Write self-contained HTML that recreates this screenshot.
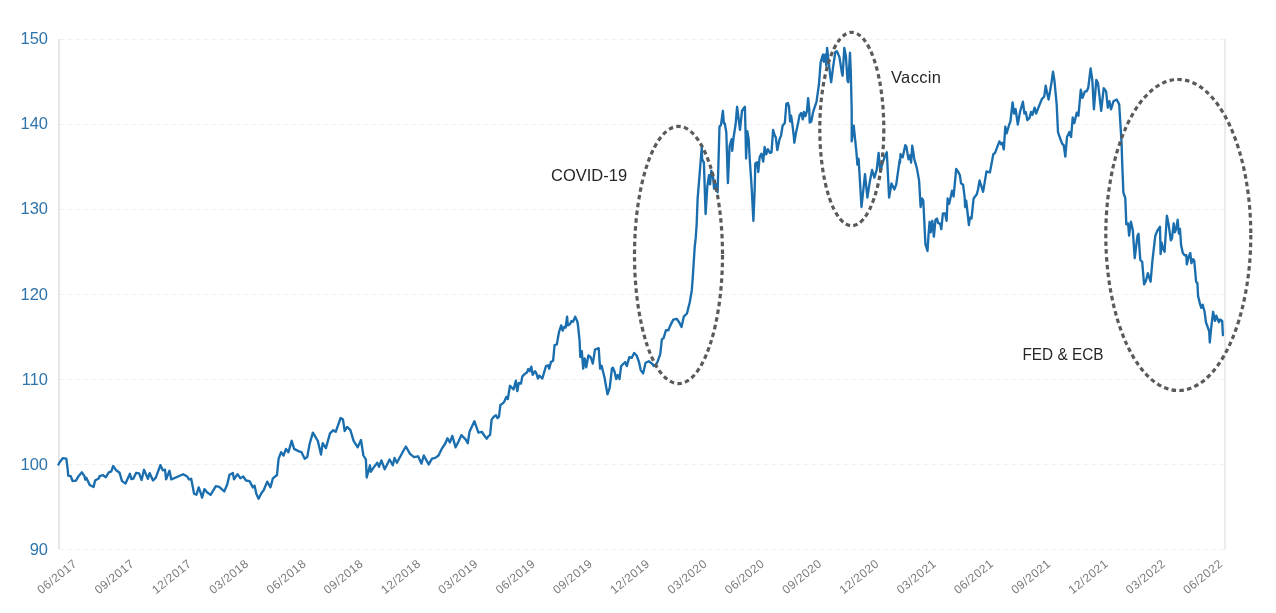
<!DOCTYPE html>
<html><head><meta charset="utf-8">
<style>
html,body{margin:0;padding:0;background:#fff;}
body{width:1276px;height:613px;overflow:hidden;}
svg{display:block;font-family:"Liberation Sans", sans-serif;will-change:transform;}
.yl{font-size:16.5px;fill:#2f74aa;}
.xl{font-size:12px;fill:#7a7a7a;letter-spacing:0.5px;}
.an{font-size:16.5px;fill:#262626;}
</style></head>
<body>
<svg width="1276" height="613" viewBox="0 0 1276 613">
<line x1="60" y1="39.4" x2="1225" y2="39.4" stroke="#f0f0f0" stroke-width="1" stroke-dasharray="5,3"/>
<line x1="60" y1="124.4" x2="1225" y2="124.4" stroke="#f0f0f0" stroke-width="1" stroke-dasharray="5,3"/>
<line x1="60" y1="209.4" x2="1225" y2="209.4" stroke="#f0f0f0" stroke-width="1" stroke-dasharray="5,3"/>
<line x1="60" y1="294.5" x2="1225" y2="294.5" stroke="#f0f0f0" stroke-width="1" stroke-dasharray="5,3"/>
<line x1="60" y1="379.5" x2="1225" y2="379.5" stroke="#f0f0f0" stroke-width="1" stroke-dasharray="5,3"/>
<line x1="60" y1="464.5" x2="1225" y2="464.5" stroke="#f0f0f0" stroke-width="1" stroke-dasharray="5,3"/>
<line x1="60" y1="549.5" x2="1225" y2="549.5" stroke="#f0f0f0" stroke-width="1" stroke-dasharray="5,3"/>

<line x1="59" y1="39" x2="59" y2="549.5" stroke="#e0e0e0" stroke-width="1.6"/>
<line x1="1225" y1="39" x2="1225" y2="549.5" stroke="#e6e6e6" stroke-width="1.6"/>
<text x="48" y="44.4" text-anchor="end" class="yl">150</text>
<text x="48" y="129.4" text-anchor="end" class="yl">140</text>
<text x="48" y="214.4" text-anchor="end" class="yl">130</text>
<text x="48" y="299.5" text-anchor="end" class="yl">120</text>
<text x="48" y="384.5" text-anchor="end" class="yl">110</text>
<text x="48" y="469.5" text-anchor="end" class="yl">100</text>
<text x="48" y="554.5" text-anchor="end" class="yl">90</text>

<text x="77.8" y="565" text-anchor="end" transform="rotate(-39 77.8 565)" class="xl">06/2017</text>
<text x="135.1" y="565" text-anchor="end" transform="rotate(-39 135.1 565)" class="xl">09/2017</text>
<text x="192.4" y="565" text-anchor="end" transform="rotate(-39 192.4 565)" class="xl">12/2017</text>
<text x="249.7" y="565" text-anchor="end" transform="rotate(-39 249.7 565)" class="xl">03/2018</text>
<text x="307.0" y="565" text-anchor="end" transform="rotate(-39 307.0 565)" class="xl">06/2018</text>
<text x="364.2" y="565" text-anchor="end" transform="rotate(-39 364.2 565)" class="xl">09/2018</text>
<text x="421.5" y="565" text-anchor="end" transform="rotate(-39 421.5 565)" class="xl">12/2018</text>
<text x="478.8" y="565" text-anchor="end" transform="rotate(-39 478.8 565)" class="xl">03/2019</text>
<text x="536.1" y="565" text-anchor="end" transform="rotate(-39 536.1 565)" class="xl">06/2019</text>
<text x="593.4" y="565" text-anchor="end" transform="rotate(-39 593.4 565)" class="xl">09/2019</text>
<text x="650.7" y="565" text-anchor="end" transform="rotate(-39 650.7 565)" class="xl">12/2019</text>
<text x="708.0" y="565" text-anchor="end" transform="rotate(-39 708.0 565)" class="xl">03/2020</text>
<text x="765.3" y="565" text-anchor="end" transform="rotate(-39 765.3 565)" class="xl">06/2020</text>
<text x="822.6" y="565" text-anchor="end" transform="rotate(-39 822.6 565)" class="xl">09/2020</text>
<text x="879.9" y="565" text-anchor="end" transform="rotate(-39 879.9 565)" class="xl">12/2020</text>
<text x="937.1" y="565" text-anchor="end" transform="rotate(-39 937.1 565)" class="xl">03/2021</text>
<text x="994.4" y="565" text-anchor="end" transform="rotate(-39 994.4 565)" class="xl">06/2021</text>
<text x="1051.7" y="565" text-anchor="end" transform="rotate(-39 1051.7 565)" class="xl">09/2021</text>
<text x="1109.0" y="565" text-anchor="end" transform="rotate(-39 1109.0 565)" class="xl">12/2021</text>
<text x="1166.3" y="565" text-anchor="end" transform="rotate(-39 1166.3 565)" class="xl">03/2022</text>
<text x="1223.6" y="565" text-anchor="end" transform="rotate(-39 1223.6 565)" class="xl">06/2022</text>

<path d="M58.4 464.5 L59.9 462.0 L62.8 458.1 L66.3 458.6 L67.7 469.4 L68.2 475.7 L70.7 476.2 L72.6 481.0 L76.0 480.6 L78.5 476.2 L81.9 472.3 L84.4 476.2 L85.3 479.6 L86.3 477.7 L89.7 485.0 L93.6 487.0 L95.1 480.6 L99.0 478.2 L99.5 476.2 L103.0 475.2 L105.9 477.2 L108.8 472.3 L111.3 471.3 L113.2 466.0 L116.2 470.3 L119.6 472.8 L122.0 481.1 L125.5 483.5 L129.9 473.8 L131.4 479.1 L133.3 478.6 L136.2 472.8 L139.1 473.3 L141.6 480.1 L144.0 469.8 L147.9 478.8 L149.6 473.1 L153.0 480.5 L155.8 477.7 L160.4 465.1 L162.7 470.3 L165.0 469.7 L166.1 479.4 L169.5 470.8 L171.3 479.4 L178.1 476.5 L183.2 474.2 L187.2 476.5 L189.0 479.4 L191.2 478.8 L194.1 493.7 L196.4 494.8 L198.7 487.4 L200.9 493.7 L202.1 497.6 L204.4 489.1 L207.2 492.5 L210.6 494.8 L215.8 486.2 L219.2 486.8 L224.3 491.4 L227.2 484.5 L229.5 474.8 L232.9 473.1 L234.0 479.4 L237.5 474.2 L240.3 478.2 L243.2 476.5 L246.0 480.5 L249.5 481.1 L252.9 487.4 L254.6 485.7 L256.3 493.7 L258.6 498.8 L261.5 493.0 L263.7 490.2 L267.2 481.6 L270.5 487.3 L272.9 478.3 L277.0 475.0 L278.6 458.7 L281.1 452.2 L283.5 455.5 L286.0 448.9 L288.4 452.2 L291.7 440.8 L294.1 448.9 L299.0 451.4 L301.5 452.2 L304.7 458.7 L307.2 457.1 L309.6 444.0 L312.9 432.6 L317.8 440.8 L321.0 454.6 L322.7 443.2 L325.9 448.1 L330.0 433.4 L333.3 430.2 L335.7 431.8 L340.6 418.0 L343.0 419.6 L344.7 431.0 L347.1 426.9 L350.4 430.2 L353.6 440.8 L357.7 447.3 L361.0 440.0 L363.4 455.5 L365.9 459.5 L366.7 477.5 L370.0 465.3 L370.8 471.8 L374.1 466.9 L377.3 462.8 L379.0 466.9 L381.4 460.4 L384.7 469.3 L389.6 459.5 L392.8 465.3 L394.5 457.9 L396.9 462.8 L402.6 452.2 L405.9 446.5 L410.0 453.8 L414.0 457.1 L418.1 456.3 L421.4 463.6 L423.8 455.5 L428.7 464.4 L432.0 458.7 L435.2 457.9 L438.5 455.5 L441.7 448.9 L445.0 444.0 L447.5 438.3 L449.9 442.4 L452.3 435.9 L455.6 447.3 L458.9 440.8 L461.3 435.1 L465.4 439.2 L467.8 443.2 L469.5 431.8 L474.4 421.2 L478.4 432.6 L481.7 431.8 L485.0 436.5 L486.8 438.7 L488.7 435.8 L490.1 435.0 L491.6 419.6 L493.8 416.7 L496.0 415.2 L497.5 418.1 L499.0 416.7 L500.4 404.9 L502.6 403.5 L504.1 402.0 L506.3 396.9 L507.8 399.1 L510.0 385.8 L512.2 388.0 L513.6 389.5 L515.8 380.7 L517.3 391.0 L518.8 382.9 L521.0 383.6 L522.4 376.3 L524.6 374.1 L526.9 372.6 L528.3 369.0 L529.8 371.2 L531.3 366.7 L532.7 374.8 L535.0 371.2 L536.4 373.4 L537.9 378.5 L539.3 375.6 L542.3 378.5 L544.5 371.2 L546.0 366.0 L548.1 365.3 L549.2 368.7 L550.9 362.1 L553.1 360.7 L554.6 345.2 L556.8 344.5 L559.0 332.0 L561.2 325.4 L562.7 330.6 L564.2 326.9 L565.6 327.6 L567.1 316.6 L567.8 325.4 L570.0 324.0 L571.5 321.0 L573.0 321.7 L575.2 316.6 L577.4 321.7 L578.1 326.2 L579.6 340.8 L580.3 357.0 L581.8 351.1 L583.2 368.7 L584.7 358.5 L586.2 367.3 L588.4 355.5 L590.6 357.0 L592.8 363.6 L595.0 349.6 L598.7 348.2 L600.1 368.7 L601.6 365.8 L604.5 377.5 L607.5 394.4 L609.7 387.8 L611.9 368.7 L612.9 367.7 L614.6 371.8 L616.2 379.1 L617.8 375.0 L619.5 379.1 L621.1 366.1 L625.2 362.0 L626.8 366.1 L629.3 357.1 L631.7 357.9 L634.2 353.0 L636.6 355.5 L639.0 362.0 L640.7 370.1 L643.1 373.4 L645.6 362.8 L648.8 361.2 L652.9 364.4 L653.7 366.1 L656.2 364.4 L657.8 361.2 L660.3 353.8 L661.9 339.2 L663.5 338.3 L666.0 330.2 L668.4 330.2 L670.0 326.1 L673.3 319.6 L676.6 318.8 L679.0 322.0 L681.5 326.9 L683.9 316.3 L686.9 313.7 L689.8 302.0 L691.8 290.2 L692.7 278.4 L693.7 262.7 L694.7 247.0 L695.7 238.2 L696.7 223.5 L697.6 199.1 L699.9 170.6 L701.8 147.0 L702.1 159.1 L703.9 162.6 L705.6 214.0 L707.3 186.6 L709.0 175.1 L710.1 184.3 L711.3 170.6 L713.0 176.3 L714.1 188.9 L715.9 184.3 L717.6 192.3 L719.5 126.4 L720.9 125.4 L722.9 110.8 L723.9 123.5 L724.8 123.5 L726.3 132.3 L727.9 183.1 L729.6 146.0 L731.7 139.1 L732.2 150.9 L733.6 137.2 L735.6 124.5 L737.1 106.8 L740.0 129.8 L742.0 110.8 L744.9 106.8 L745.5 130.0 L746.1 158.5 L747.3 131.1 L748.7 139.5 L749.8 160.0 L751.6 186.7 L753.4 220.9 L754.7 189.1 L755.3 163.4 L757.1 162.2 L758.3 172.0 L759.6 157.3 L761.4 153.7 L763.2 161.6 L764.6 147.0 L766.2 154.4 L767.8 149.1 L769.9 152.8 L771.5 152.3 L773.1 130.0 L774.7 135.3 L775.8 137.4 L777.3 150.1 L779.5 139.5 L781.1 135.3 L782.6 125.8 L784.8 123.1 L786.4 103.5 L787.9 103.0 L789.0 106.7 L790.1 121.5 L791.1 115.7 L792.2 122.6 L793.8 136.4 L794.3 142.7 L795.9 133.2 L798.0 123.6 L799.6 115.1 L801.2 113.0 L802.8 119.4 L803.9 112.0 L805.4 116.2 L807.0 110.9 L808.1 98.2 L809.2 108.8 L809.7 122.6 L811.3 121.5 L812.9 113.0 L814.5 107.7 L816.5 101.8 L819.0 83.8 L820.6 62.6 L822.2 56.9 L823.1 54.5 L823.9 61.8 L825.5 54.5 L826.3 65.9 L827.1 47.9 L828.8 62.6 L830.4 77.3 L831.2 82.2 L832.8 69.2 L835.3 52.0 L836.9 51.2 L839.4 56.9 L841.8 72.4 L842.6 75.7 L844.3 47.9 L845.9 56.1 L847.5 80.6 L848.3 82.2 L850.0 52.8 L850.8 72.4 L851.7 110.0 L851.7 141.3 L853.7 125.7 L855.7 145.2 L856.4 152.0 L857.4 164.7 L858.6 158.8 L861.5 207.0 L865.0 174.1 L867.4 197.6 L869.7 182.3 L872.1 170.0 L874.4 177.6 L876.8 169.4 L878.6 152.9 L880.3 171.7 L882.1 164.7 L884.4 157.6 L886.8 152.3 L889.1 197.6 L891.5 183.5 L894.4 189.4 L896.2 184.7 L899.7 160.0 L900.0 162.6 L900.5 154.1 L902.7 157.3 L905.3 145.1 L906.4 146.7 L908.5 159.4 L910.1 155.1 L911.1 162.6 L912.2 145.6 L913.3 152.0 L914.3 159.4 L915.9 164.7 L917.0 168.9 L919.1 180.6 L920.6 207.0 L922.2 198.5 L923.3 200.6 L925.4 244.1 L927.5 251.0 L928.6 233.5 L929.6 221.8 L930.7 232.4 L932.3 220.8 L933.9 236.7 L935.5 219.7 L937.0 218.6 L938.1 222.9 L940.2 223.9 L941.3 229.2 L942.9 213.3 L945.0 213.3 L946.6 220.8 L947.6 198.5 L949.2 203.8 L950.8 196.4 L952.0 190.7 L953.6 196.5 L956.2 168.9 L957.8 171.1 L959.9 175.3 L961.0 183.2 L963.1 184.8 L964.7 197.6 L965.1 207.0 L966.2 200.6 L968.9 225.0 L969.9 217.6 L971.5 218.6 L973.6 198.5 L976.8 194.2 L977.9 190.0 L979.6 180.5 L983.1 191.9 L986.5 171.4 L989.9 172.5 L993.3 154.2 L995.0 153.1 L997.2 147.2 L999.4 141.4 L1000.9 144.3 L1002.3 142.8 L1003.8 149.4 L1005.3 126.7 L1006.7 133.3 L1009.0 125.2 L1010.4 121.5 L1012.6 102.4 L1014.1 113.5 L1015.6 109.1 L1017.8 124.5 L1020.0 112.0 L1022.9 101.7 L1024.4 113.5 L1025.8 112.0 L1027.3 120.1 L1029.5 117.9 L1031.0 112.0 L1032.4 114.9 L1034.6 107.6 L1036.1 113.5 L1039.0 106.1 L1042.0 98.8 L1044.2 96.6 L1045.7 85.6 L1047.1 92.9 L1048.6 99.5 L1050.1 90.7 L1051.5 82.6 L1053.0 71.6 L1054.5 81.2 L1056.7 104.6 L1058.0 132.1 L1059.6 137.0 L1062.1 143.6 L1063.7 145.2 L1065.3 156.6 L1067.0 137.0 L1069.4 132.1 L1071.1 137.0 L1072.7 117.5 L1074.3 123.2 L1076.8 112.6 L1078.4 115.8 L1080.8 89.7 L1082.5 97.9 L1084.9 91.4 L1086.5 91.4 L1088.2 88.1 L1090.6 68.5 L1092.3 79.9 L1093.9 109.3 L1096.3 79.9 L1098.0 83.2 L1101.2 110.9 L1103.7 88.1 L1106.1 91.4 L1107.8 107.7 L1109.4 101.2 L1111.0 109.3 L1113.5 101.2 L1116.7 99.5 L1119.2 104.4 L1120.8 130.5 L1121.6 143.6 L1122.2 163.4 L1123.4 192.5 L1125.3 198.1 L1126.3 224.4 L1128.1 223.5 L1129.1 235.7 L1130.9 221.6 L1132.8 230.0 L1134.7 258.2 L1137.5 235.7 L1138.5 233.8 L1140.3 260.0 L1142.2 261.9 L1144.1 284.4 L1146.0 280.7 L1147.8 273.2 L1150.6 281.6 L1152.5 260.0 L1155.3 235.7 L1157.2 231.0 L1159.1 228.2 L1160.0 226.7 L1160.6 254.1 L1161.7 242.7 L1162.9 248.4 L1164.6 251.8 L1166.9 215.8 L1168.6 224.4 L1170.8 240.4 L1172.0 238.1 L1173.7 223.3 L1174.8 232.4 L1176.0 229.6 L1177.7 219.8 L1178.8 233.5 L1180.0 229.0 L1181.1 245.0 L1182.8 253.0 L1184.6 255.2 L1186.3 255.2 L1186.8 264.4 L1188.5 257.5 L1190.3 253.0 L1191.4 263.2 L1193.1 259.2 L1194.3 261.0 L1196.1 281.7 L1197.4 283.1 L1198.1 296.1 L1200.0 303.9 L1201.3 307.9 L1202.6 304.6 L1204.6 311.8 L1205.9 322.2 L1209.2 331.4 L1209.8 342.5 L1211.1 328.7 L1213.1 311.8 L1215.0 320.9 L1216.3 315.7 L1218.9 322.2 L1220.2 319.6 L1222.2 320.9 L1222.9 335.3" fill="none" stroke="#1a6eae" stroke-width="2.35" stroke-linejoin="round" stroke-linecap="round"/>
<ellipse cx="678.5" cy="255" rx="44" ry="128.6" fill="none" stroke="#5a5a5a" stroke-width="3.2" stroke-dasharray="4.5,3.3"/>
<ellipse cx="851.8" cy="129" rx="32" ry="96.7" fill="none" stroke="#5a5a5a" stroke-width="3.2" stroke-dasharray="4.5,3.3"/>
<ellipse cx="1178.3" cy="235" rx="72.5" ry="155.5" fill="none" stroke="#5a5a5a" stroke-width="3.2" stroke-dasharray="4.5,3.3"/>
<text x="551" y="181" class="an">COVID-19</text>
<text x="891" y="82.6" class="an" textLength="50" lengthAdjust="spacing">Vaccin</text>
<text x="1022.5" y="359.6" class="an" textLength="81" lengthAdjust="spacingAndGlyphs">FED &amp; ECB</text>
</svg>
</body></html>
